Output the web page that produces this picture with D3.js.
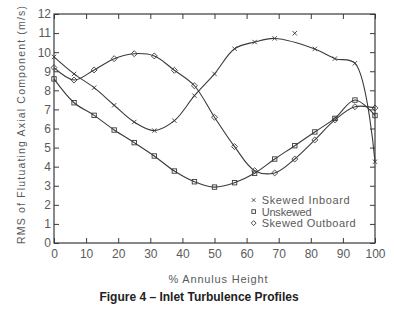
<!DOCTYPE html>
<html>
<head>
<meta charset="utf-8">
<script src="https://cdn.jsdelivr.net/npm/d3@7"></script>
<style>
  html, body { margin: 0; padding: 0; background: #fff; }
  svg { display: block; }
</style>
</head>
<body>
<div id="chart"></div>
<script>
// % annulus height stations
const stations = [0, 6.25, 12.5, 18.75, 25, 31.25, 37.5, 43.75, 50, 56.25, 62.5, 68.75, 75, 81.25, 87.5, 93.75, 100];

// RMS of fluctuating axial component (m/s), one value per station
const skewedInboard  = [9.75, 8.86, 8.14, 7.22, 6.34, 5.89, 6.41, 7.72, 8.86, 10.18, 10.53, 10.72, null, 10.17, 9.66, 9.42, 4.26];
const inboardStray   = [{ x: 75, y: 10.99 }]; // the lone x off the curve
const unskewed       = [8.6, 7.35, 6.69, 5.92, 5.26, 4.56, 3.77, 3.21, 2.93, 3.16, 3.65, 4.40, 5.10, 5.82, 6.53, 7.49, 6.68];
const skewedOutboard = [9.19, 8.54, 9.07, 9.66, 9.92, 9.80, 9.05, 8.24, 6.59, 5.05, 3.79, 3.67, 4.40, 5.40, 6.45, 7.14, 7.08];

const xTicks = [0, 10, 20, 30, 40, 50, 60, 70, 80, 90, 100];
const yTicks = [0, 1, 2, 3, 4, 5, 6, 7, 8, 9, 10, 11, 12];

const seriesNames = ['Skewed Inboard', 'Unskewed', 'Skewed Outboard'];
const seriesMarks = ['cross', 'square', 'diamond'];
const legendWidths = [88, 50, 94]; // text widths

const W = 394, H = 311;
const margin = { top: 14, right: 19, bottom: 68, left: 54 };
const width = W - margin.left - margin.right;
const height = H - margin.top - margin.bottom;
const ink = '#3a3a3a';
const textInk = '#5a5a5a';
const font = '"Liberation Sans", Arial, sans-serif';

const svg = d3.select('#chart').append('svg')
  .attr('width', W)
  .attr('height', H);

const g = svg.append('g')
  .attr('transform', `translate(${margin.left},${margin.top})`);

const x = d3.scaleLinear().domain([0, 100]).range([0, width]);
const y = d3.scaleLinear().domain([0, 12]).range([height, 0]);

// frame
g.append('rect')
  .attr('x', 0).attr('y', 0)
  .attr('width', width).attr('height', height)
  .attr('fill', 'none')
  .attr('stroke', ink)
  .attr('stroke-width', 1.2);

// axes, ticks pointing inwards
const styleAxis = sel => {
  sel.select('.domain').remove();
  sel.selectAll('.tick line').attr('stroke', ink).attr('stroke-width', 1);
  sel.selectAll('.tick text')
    .attr('fill', textInk)
    .style('font-family', font)
    .style('font-size', '12px');
};

g.append('g')
  .attr('transform', `translate(0,${height})`)
  .call(d3.axisBottom(x).tickValues(xTicks).tickSizeInner(-5).tickSizeOuter(0).tickPadding(4))
  .call(styleAxis)
  .selectAll('.tick text').attr('dy', '0.95em');

g.append('g')
  .call(d3.axisTop(x).tickValues(xTicks).tickSizeInner(-5).tickSizeOuter(0).tickFormat(''))
  .call(styleAxis);

g.append('g')
  .call(d3.axisLeft(y).tickValues(yTicks).tickSizeInner(-5).tickSizeOuter(0).tickPadding(3))
  .call(styleAxis);

g.append('g')
  .attr('transform', `translate(${width},0)`)
  .call(d3.axisRight(y).tickValues(yTicks).tickSizeInner(-5).tickSizeOuter(0).tickFormat(''))
  .call(styleAxis);

// curves
const allSeries = [skewedInboard, unskewed, skewedOutboard].map((vals, i) => ({
  name: seriesNames[i],
  mark: seriesMarks[i],
  points: stations.map((s, j) => ({ x: s, y: vals[j] })).filter(d => d.y !== null)
}));

const line = d3.line()
  .x(d => x(d.x))
  .y(d => y(d.y))
  .curve(d3.curveCatmullRom.alpha(0.5));

g.selectAll('.curve')
  .data(allSeries)
  .join('path')
    .attr('class', 'curve')
    .attr('d', d => line(d.points))
    .attr('fill', 'none')
    .attr('stroke', ink)
    .attr('stroke-width', 1.1);

// marker shapes
const drawMark = (sel, type, s) => {
  if (type === 'cross') {
    sel.append('path')
      .attr('d', `M${-s},${-s}L${s},${s}M${-s},${s}L${s},${-s}`);
  } else if (type === 'square') {
    sel.append('rect')
      .attr('x', -s).attr('y', -s).attr('width', 2 * s).attr('height', 2 * s);
  } else {
    const r = s * 1.35;
    sel.append('path')
      .attr('d', `M0,${-r}L${r},0L0,${r}L${-r},0Z`);
  }
  sel.selectAll('path, rect')
    .attr('fill', 'none')
    .attr('stroke', ink)
    .attr('stroke-width', 0.9);
};

allSeries.forEach(sr => {
  const pts = sr.mark === 'cross' ? sr.points.concat(inboardStray) : sr.points;
  g.selectAll(null)
    .data(pts)
    .join('g')
      .attr('transform', d => `translate(${x(d.x)},${y(d.y)})`)
      .each(function () { drawMark(d3.select(this), sr.mark, 2.2); });
});

// legend
const legend = g.append('g')
  .attr('transform', `translate(${x(62.2)},${y(2.25)})`);

seriesNames.forEach((name, i) => {
  const row = legend.append('g').attr('transform', `translate(0,${i * 11.5})`);
  drawMark(row.append('g'), seriesMarks[i], 1.8);
  row.append('text')
    .attr('x', 8)
    .attr('dy', '0.36em')
    .attr('fill', textInk)
    .attr('textLength', legendWidths[i])
    .attr('lengthAdjust', 'spacing')
    .style('font-family', font)
    .style('font-size', '11px')
    .text(name);
});

// axis titles
svg.append('text')
  .attr('transform', `translate(21,${margin.top + 111}) rotate(-90)`)
  .attr('text-anchor', 'middle')
  .attr('dy', '0.35em')
  .attr('fill', textInk)
  .attr('textLength', 238)
  .attr('lengthAdjust', 'spacing')
  .style('font-family', font)
  .style('font-size', '10.5px')
  .text('RMS of Flutuating Axial Component (m/s)');

svg.append('text')
  .attr('x', 218)
  .attr('y', 279)
  .attr('text-anchor', 'middle')
  .attr('dy', '0.35em')
  .attr('fill', textInk)
  .attr('textLength', 99)
  .attr('lengthAdjust', 'spacing')
  .style('font-family', font)
  .style('font-size', '11px')
  .text('% Annulus Height');

svg.append('text')
  .attr('x', 199)
  .attr('y', 297)
  .attr('text-anchor', 'middle')
  .attr('dy', '0.35em')
  .attr('fill', '#222')
  .style('font-family', font)
  .style('font-weight', 'bold')
  .style('font-size', '12px')
  .text('Figure 4 \u2013 Inlet Turbulence Profiles');
</script>
</body>
</html>
